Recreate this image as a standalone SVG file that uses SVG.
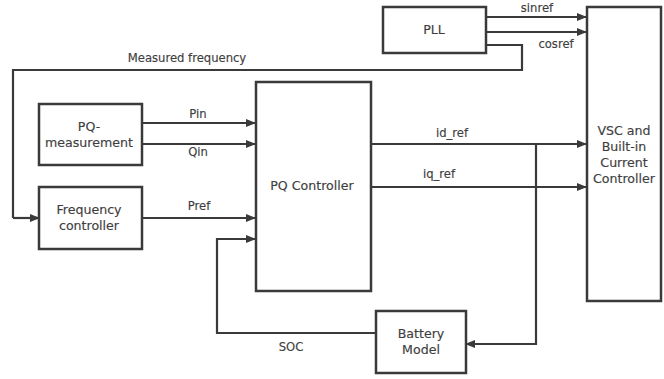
<svg xmlns="http://www.w3.org/2000/svg" width="664" height="379" viewBox="0 0 664 379">
<defs>
<marker id="ah" markerWidth="10" markerHeight="8" refX="9" refY="4" orient="auto" markerUnits="userSpaceOnUse">
<path d="M0,0 L10,4 L0,8 Z" fill="#3a3a3a"/>
</marker>
<style>
.box{fill:#fff;stroke:#3a3a3a;stroke-width:2.5}
.ln{fill:none;stroke:#3a3a3a;stroke-width:2.2}
.ar{marker-end:url(#ah)}
text{font-family:"DejaVu Sans","Open Sans",sans-serif;font-size:11.6px;fill:#3e3e3e;stroke:#3e3e3e;stroke-width:0.15;text-anchor:middle}
.big{font-size:12.6px}
</style>
</defs>
<rect width="664" height="379" fill="#fff"/>
<g id="connectors">
<path class="ln ar" d="M486,17 L586,17"/>
<path class="ln ar" d="M486,32 L586,32"/>
<path class="ln" d="M486,45 L522,45 L522,70 L13,70 L13,218"/>
<path class="ln ar" d="M13,218 L39,218"/>
<path class="ln ar" d="M142,123 L255,123"/>
<path class="ln ar" d="M142,144 L255,144"/>
<path class="ln ar" d="M142,218 L255,218"/>
<path class="ln ar" d="M376,333 L217,333 L217,239 L255,239"/>
<path class="ln ar" d="M371,144 L586,144"/>
<path class="ln ar" d="M371,187 L586,187"/>
<path class="ln ar" d="M536,144 L536,344 L466,344"/>
<text x="537" y="12">sinref</text>
<text x="556" y="48">cosref</text>
<text x="187" y="62">Measured frequency</text>
<text x="198" y="118">Pin</text>
<text x="198" y="156">Qin</text>
<text x="199" y="210">Pref</text>
<text x="452" y="137">id_ref</text>
<text x="439" y="178">iq_ref</text>
<text x="291" y="351">SOC</text>
</g>
<g id="pll">
<rect class="box" x="383" y="7" width="103" height="46"/>
<text class="big" x="434" y="34">PLL</text>
</g>
<g id="vsc">
<rect class="box" x="587" y="7" width="74" height="294"/>
<text class="big" x="624" y="135">VSC and</text>
<text class="big" x="624" y="151">Built-in</text>
<text class="big" x="624" y="167">Current</text>
<text class="big" x="624" y="183">Controller</text>
</g>
<g id="pqmeas">
<rect class="box" x="39" y="104" width="103" height="61"/>
<text class="big" x="89" y="131">PQ-</text>
<text class="big" x="89" y="147">measurement</text>
</g>
<g id="freqctrl">
<rect class="box" x="39" y="187" width="103" height="62"/>
<text class="big" x="89" y="214">Frequency</text>
<text class="big" x="89" y="230">controller</text>
</g>
<g id="pqctrl">
<rect class="box" x="256" y="82" width="115" height="209"/>
<text class="big" x="312" y="190">PQ Controller</text>
</g>
<g id="battery">
<rect class="box" x="376" y="311" width="90" height="62"/>
<text class="big" x="421" y="338">Battery</text>
<text class="big" x="421" y="354">Model</text>
</g>
</svg>
